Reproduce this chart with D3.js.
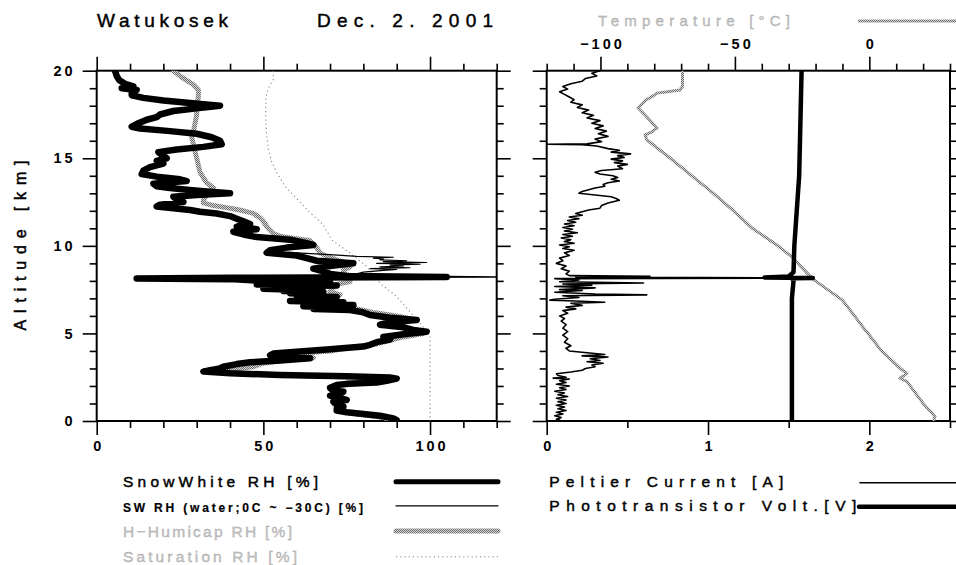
<!DOCTYPE html>
<html><head><meta charset="utf-8">
<script src="https://cdn.jsdelivr.net/npm/d3@7"></script>
<style>body{margin:0;background:#fff}svg{display:block}</style>
</head><body><svg id="c" width="956" height="565"></svg>
<script>
// ---------------- DATA ----------------
const title = "Watukosek";
const dateLabel = "Dec. 2. 2001";
const rhTicksMajor = [0, 50, 100];
const altTicksMajor = [0, 5, 10, 15, 20];
const pelTicksMajor = [0, 1, 2];
const tempTicksMajor = [-100, -50, 0];

// SnowWhite RH [%]
const swAlt = [20.0,19.7,19.45,19.25,19.1,19.0,18.9,18.75,18.6,18.45,18.3,18.15,18.0,17.85,17.7,17.5,17.35,17.2,17.0,16.8,16.7,16.55,16.4,16.2,16.0,15.8,15.65,15.5,15.35,15.2,15.0,14.85,14.7,14.5,14.3,14.1,13.95,13.8,13.7,13.55,13.4,13.3,13.2,13.1,13.0,12.9,12.8,12.65,12.5,12.35,12.25,12.15,12.05,11.95,11.85,11.7,11.55,11.4,11.25,11.1,10.95,10.8,10.65,10.5,10.35,10.2,10.05,9.9,9.75,9.6,9.45,9.3,9.15,9.0,8.85,8.7,8.55,8.4,8.28,8.22,8.18,8.14,8.1,8.02,7.97,7.92,7.85,7.8,7.74,7.68,7.62,7.55,7.48,7.42,7.36,7.3,7.22,7.15,7.08,7.0,6.92,6.85,6.78,6.7,6.62,6.55,6.48,6.4,6.34,6.2,6.05,5.9,5.77,5.65,5.5,5.35,5.2,5.1,4.95,4.8,4.65,4.5,4.35,4.25,4.1,3.96,3.85,3.75,3.65,3.58,3.45,3.35,3.25,3.1,3.0,2.9,2.82,2.72,2.63,2.55,2.48,2.42,2.3,2.2,2.12,2.05,1.9,1.75,1.67,1.55,1.45,1.35,1.2,1.1,0.95,0.82,0.7,0.6,0.5,0.4,0.3,0.15,0.05];
const swRH  = [5.5,6.0,6.8,8.5,11,7.5,12,10.5,10.5,14,20,28,37,30,23,19,18,15,12.5,10.5,13,22,30,34.5,37,37.5,32,24,18.5,19.5,21,18,20,16,14,13.5,18,25,27,17,18,22,27,33,40,30,23,24,26,19,18,23,28,31,36,40,42,44,46,42,48,41,44,48,58,62,65,57,52,51,60,63,66,77,70,65,68,70,75,105,40,12,40,48,70,50,65,48,72,55,66,50,62,56,68,58,66,60,72,62,70,58,74,62,77,62,72,65,76,80,82,88,96,88,85,92,95,99,92,86,88,84,82,80,70,60,53,52,60,64,55,46,42,38,37,34,32,40,55,75,88,90,87,84,75,72,70,71,74,73,70,72,75,71,72,74,72,72,75,80,85,89,90];

// SW RH (water; 0C ~ -30C) [%]
const swwAlt = [9.6,9.5,9.4,9.35,9.3,9.25,9.2,9.15,9.1,9.05,9.0,8.95,8.9,8.85,8.8,8.75,8.7,8.65,8.6,8.5,8.4,8.3,8.22,8.18,8.14,8.1,8.0,7.9,7.7,7.5,7.3,7.1,6.9,6.7,6.5,6.3,6.1,5.9,5.77,5.6,5.4,5.2,5.05];
const swwRH  = [60,70,78,89,83,86,85,93,86,99,84,97,88,92,85,94,82,90,86,80,78,82,125,60,15,45,50,54,62,58,60,64,63,66,68,76,82,88,96,87,90,95,95];

// H-Humicap RH [%]
const hhAlt = [20.0,19.7,19.5,19.2,18.9,18.5,18.0,17.5,17.0,16.5,16.2,15.8,15.4,15.0,14.6,14.2,13.9,13.6,13.3,13.1,12.9,12.6,12.45,12.3,12.15,12.0,11.85,11.6,11.4,11.1,10.9,10.7,10.55,10.4,10.3,10.1,9.9,9.6,9.4,9.2,9.0,8.8,8.6,8.44,8.3,8.1,7.96,7.8,7.6,7.4,7.2,7.0,6.8,6.6,6.4,6.2,6.0,5.8,5.6,5.4,5.2,5.0,4.8,4.6,4.4,4.2,4.0,3.85,3.7,3.6,3.45,3.3,3.1,2.95,2.82,2.7,2.6,2.5,2.4,2.2,2.0,1.8,1.6,1.4,1.2,1.0,0.8,0.6,0.4,0.2,0.05];
const hhRH  = [23,25,26.5,29,30.5,30.5,30,30,29.5,29,28.5,29,29.5,30,30.5,31,32,33,35,34,33,32,32,35,40,44,47,49,50,51,52,53,55,60,64,65,66,67,69,72,75,76,74,74,76,76,76,72,71,70,73,71,73,75,78,83,90,95,92,90,95,98,92,88,84,76,70,60,64,65,56,50,47,40,38,45,60,80,87,83,71,70,72,71,73,71,72,72,78,86,88];

// Saturation RH [%]
const satAlt = [20.0,19.5,19.0,18.5,18.0,17.4,16.5,15.5,14.8,14.2,13.4,12.7,11.9,11.2,10.34,9.58,8.82,7.86,7.1,6.34,5.58,4.9,4.0,3.0,2.0,1.0,0.0];
const satRH  = [53,53,51.5,50.8,50.7,50.7,50.9,51.5,52.5,54,56.5,60,64,68,70.5,76,81,85,90,93.5,97,100,100,100,100,100,100];

// Temperature [°C]
const tAlt = [19.96,19.1,18.9,18.8,18.72,18.5,18.35,17.87,17.4,16.9,16.72,16.5,16.34,16.06,15.0,14.0,13.0,12.0,11.0,10.0,9.39,8.1,6.9,6.0,5.2,5.0,4.0,3.0,2.72,2.44,2.25,1.0,0.25,0.06];
const tVal = [-69.5,-69.5,-70.5,-75,-79,-81,-83,-86,-83,-80,-79,-81,-83.4,-82.8,-74,-66,-58,-50.5,-43.5,-34,-29,-21,-10,-5.5,-1.6,-0.5,4.5,11.5,14,11.4,14,20,24.4,24];

// Peltier Current [A]
const pcAlt = [20.0,19.85,19.7,19.55,19.4,19.25,19.1,18.95,18.8,18.65,18.5,18.35,18.2,18.05,17.9,17.75,17.6,17.45,17.3,17.15,17.0,16.85,16.7,16.55,16.4,16.25,16.1,15.95,15.82,15.8,15.78,15.7,15.55,15.45,15.35,15.25,15.15,15.05,14.95,14.85,14.75,14.65,14.55,14.4,14.3,14.2,14.1,14.0,13.9,13.8,13.7,13.6,13.5,13.4,13.3,13.2,13.1,13.0,12.9,12.8,12.7,12.6,12.45,12.3,12.15,12.05,11.95,11.85,11.75,11.65,11.55,11.45,11.35,11.25,11.15,11.05,10.95,10.85,10.75,10.65,10.55,10.45,10.35,10.25,10.15,10.05,9.95,9.85,9.75,9.6,9.45,9.3,9.15,9.0,8.85,8.7,8.55,8.4,8.3,8.26,8.22,8.16,8.13,8.05,7.95,7.88,7.82,7.75,7.68,7.6,7.5,7.45,7.35,7.25,7.2,7.15,7.05,6.95,6.9,6.85,6.78,6.72,6.6,6.5,6.4,6.3,6.15,6.0,5.85,5.7,5.5,5.3,5.1,4.9,4.7,4.5,4.3,4.15,4.0,3.9,3.8,3.72,3.65,3.55,3.45,3.38,3.3,3.2,3.1,3.0,2.9,2.8,2.7,2.6,2.5,2.45,2.4,2.3,2.2,2.1,2.0,1.9,1.8,1.7,1.6,1.5,1.4,1.3,1.2,1.1,1.0,0.9,0.8,0.7,0.6,0.5,0.4,0.3,0.2,0.1,0.05];
const pcVal = [0.33,0.28,0.31,0.24,0.22,0.15,0.10,0.13,0.08,0.11,0.14,0.17,0.15,0.22,0.19,0.26,0.22,0.29,0.25,0.33,0.28,0.35,0.30,0.37,0.32,0.38,0.30,0.34,0.25,0.0,0.22,0.31,0.38,0.45,0.40,0.52,0.44,0.48,0.40,0.47,0.42,0.50,0.44,0.47,0.34,0.30,0.33,0.41,0.44,0.40,0.45,0.38,0.35,0.36,0.30,0.26,0.22,0.20,0.30,0.40,0.43,0.45,0.38,0.34,0.33,0.26,0.22,0.18,0.22,0.14,0.20,0.13,0.18,0.11,0.17,0.10,0.16,0.11,0.19,0.10,0.16,0.09,0.15,0.11,0.17,0.08,0.14,0.10,0.17,0.11,0.14,0.08,0.10,0.06,0.12,0.09,0.14,0.12,0.14,0.64,0.18,1.55,0.05,0.20,0.08,0.60,0.10,0.28,0.05,0.30,0.08,0.22,0.05,0.30,0.62,0.10,0.20,0.05,0.02,0.18,0.36,0.15,0.22,0.12,0.18,0.10,0.13,0.08,0.11,0.09,0.12,0.10,0.13,0.10,0.13,0.11,0.15,0.12,0.14,0.25,0.36,0.22,0.38,0.27,0.33,0.25,0.35,0.28,0.30,0.24,0.22,0.15,0.06,0.07,0.12,0.04,0.14,0.08,0.12,0.06,0.14,0.08,0.12,0.05,0.11,0.07,0.13,0.06,0.12,0.07,0.12,0.06,0.11,0.07,0.12,0.06,0.10,0.05,0.09,0.06,0.08];

// Phototransistor Volt. [V]
const ptAlt = [20.0,18.0,16.0,14.0,12.0,10.0,8.5,8.25,8.2,8.17,8.13,8.0,7.0,6.0,4.0,2.0,0.05];
const ptVal = [1.58,1.575,1.57,1.565,1.55,1.535,1.53,1.5,1.35,1.65,1.52,1.53,1.52,1.52,1.52,1.52,1.52];

// ---------------- DRAW ----------------
const FONT = "'Liberation Sans', Arial, Helvetica, sans-serif";
const svg = d3.select("#c");
const defs = svg.append("defs");
const pat = defs.append("pattern").attr("id","half").attr("width",2).attr("height",2).attr("patternUnits","userSpaceOnUse");
pat.append("rect").attr("width",2).attr("height",2).attr("fill","#d8d8d8");
pat.append("rect").attr("x",0).attr("y",0).attr("width",1).attr("height",1).attr("fill","#6a6a6a");
pat.append("rect").attr("x",1).attr("y",1).attr("width",1).attr("height",1).attr("fill","#6a6a6a");

const Y0 = 70.7, Y1 = 421;
const L = {x0: 96.7, x1: 496.7};
const R = {x0: 546.7, x1: 950};
const yAlt = d3.scaleLinear([0, 20], [Y1, Y0]);
const xRH = d3.scaleLinear([0, 120], [L.x0, L.x1]);
const xPel = d3.scaleLinear([0, 2.5], [R.x0, R.x1]);
const xT = d3.scaleLinear([-120, 30], [R.x0, R.x1]);

["cl","cr"].forEach((id,i) => {
  const P = i ? R : L;
  defs.append("clipPath").attr("id", id).append("rect")
    .attr("x", P.x0).attr("y", Y0).attr("width", P.x1 - P.x0).attr("height", Y1 - Y0);
});

function addAxis(gen, scale, vals, size, tx, ty, labels, pad) {
  const ax = gen(scale).tickValues(vals).tickSize(size).tickSizeOuter(0).tickPadding(pad || 3)
    .tickFormat(labels ? (d => d < 0 ? "\u2212" + Math.abs(d) : String(d)) : "");
  const g = svg.append("g").attr("transform", `translate(${tx},${ty})`).call(ax);
  g.select(".domain").remove();
  g.selectAll(".tick line").attr("stroke", "#000").attr("stroke-width", 1.6);
  g.selectAll(".tick text").attr("font-family", FONT).attr("font-size", 14.5)
    .attr("font-weight", "bold").attr("fill", "#000").attr("letter-spacing", "3px");
  return g;
}
const range = (a, b, s) => d3.range(a, b + s / 2, s);
const minorOf = (all, maj) => all.filter(v => !maj.some(m => Math.abs(m - v) < 1e-9));
const altAll = range(0, 20, 1), altMinor = minorOf(altAll, altTicksMajor);
const rhAll = range(0, 120, 10), rhMinor = minorOf(rhAll, rhTicksMajor);
const pelAll = range(0, 2.5, 0.5), pelMinor = minorOf(pelAll, pelTicksMajor);
const tAll = range(-120, 30, 10), tMinor = minorOf(tAll, tempTicksMajor);

// left panel axes
let g = addAxis(d3.axisLeft, yAlt, altTicksMajor, 14, L.x0, 0, true, 7);
addAxis(d3.axisLeft, yAlt, altMinor, 7, L.x0, 0, false);
addAxis(d3.axisRight, yAlt, altTicksMajor, 14, L.x1, 0, false);
addAxis(d3.axisRight, yAlt, altMinor, 7, L.x1, 0, false);
g = addAxis(d3.axisBottom, xRH, rhTicksMajor, 14, 0, Y1, true, 6);
g.selectAll(".tick text").attr("dx", "1.5");
addAxis(d3.axisBottom, xRH, rhMinor, 7, 0, Y1, false);
addAxis(d3.axisTop, xRH, rhTicksMajor, 14, 0, Y0, false);
addAxis(d3.axisTop, xRH, rhMinor, 7, 0, Y0, false);
// right panel axes
addAxis(d3.axisLeft, yAlt, altTicksMajor, 14, R.x0, 0, false);
addAxis(d3.axisLeft, yAlt, altMinor, 7, R.x0, 0, false);
addAxis(d3.axisRight, yAlt, altTicksMajor, 14, R.x1, 0, false);
addAxis(d3.axisRight, yAlt, altMinor, 7, R.x1, 0, false);
g = addAxis(d3.axisBottom, xPel, pelTicksMajor, 14, 0, Y1, true, 6);
g.selectAll(".tick text").attr("dx", "1.5");
addAxis(d3.axisBottom, xPel, pelMinor, 7, 0, Y1, false);
g = addAxis(d3.axisTop, xT, tempTicksMajor, 14, 0, Y0, true, 8);
g.selectAll(".tick text").attr("dx", "1.5");
addAxis(d3.axisTop, xT, tMinor, 7, 0, Y0, false);

// frames
[L, R].forEach(P => svg.append("rect").attr("x", P.x0).attr("y", Y0)
  .attr("width", P.x1 - P.x0).attr("height", Y1 - Y0)
  .attr("fill", "none").attr("stroke", "#000").attr("stroke-width", 2));

function series(clip, xs, alts, vals, style) {
  const data = d3.zip(alts, vals);
  const line = d3.line().x(d => xs(d[1])).y(d => yAlt(d[0])).curve(d3.curveLinear);
  const p = svg.append("path").attr("clip-path", `url(#${clip})`).attr("d", line(data))
    .attr("fill", "none").attr("stroke-linejoin", "round").attr("stroke-linecap", "round");
  Object.entries(style).forEach(([k, v]) => p.attr(k, v));
}
const sSat = {stroke: "#888", "stroke-width": 1.1, "stroke-dasharray": "1.2,3", "stroke-linecap": "butt"};
const sHH = {stroke: "url(#half)", "stroke-width": 5};
const sSW = {stroke: "#000", "stroke-width": 6.5};
const sSWW = {stroke: "#000", "stroke-width": 1.2};
const sT = {stroke: "url(#half)", "stroke-width": 3};
const sPC = {stroke: "#000", "stroke-width": 1.6};
const sPT = {stroke: "#000", "stroke-width": 4.5};

series("cl", xRH, satAlt, satRH, sSat);
series("cl", xRH, hhAlt, hhRH, sHH);
series("cl", xRH, swAlt, swRH, sSW);
series("cl", xRH, swwAlt, swwRH, sSWW);

series("cr", xT, tAlt, tVal, sT);
series("cr", xPel, pcAlt, pcVal, sPC);
series("cr", xPel, ptAlt, ptVal, sPT);

// texts
const GRAY = {fill: "#c4c4c4", stroke: "#a6a6a6", sw: 0.35};
function txt(s, x, y, size, len, opts = {}) {
  const t = svg.append("text").attr("x", x).attr("y", y).text(s)
    .attr("font-family", FONT).attr("font-size", size).attr("fill", opts.fill || "#000")
    .attr("font-weight", opts.weight || "normal")
    .attr("stroke", opts.stroke || "#000").attr("stroke-width", opts.sw != null ? opts.sw : 0.45);
  if (len) t.attr("textLength", len).attr("lengthAdjust", "spacing");
  return t;
}
txt(title, 97, 27, 19, 131);
txt(dateLabel, 317, 27, 19, 176);
txt("Temperature [\u00B0C]", 598, 25.5, 15, 192, GRAY);
svg.append("line").attr("x1", 858).attr("x2", 962).attr("y1", 21).attr("y2", 21)
  .attr("stroke", "url(#half)").attr("stroke-width", 3);

svg.append("text").attr("transform", "translate(26,245.5) rotate(-90)")
  .attr("text-anchor", "middle").attr("font-family", FONT).attr("font-size", 16)
  .attr("stroke", "#000").attr("stroke-width", 0.5)
  .attr("textLength", 170).attr("lengthAdjust", "spacing").text("Altitude [km]");

// legends
const legL = [
  {t: "SnowWhite RH [%]", y: 487, size: 15.5, len: 195, ly: 481.7, st: sSW, w: "normal"},
  {t: "SW RH (water;0C ~ \u221230C) [%]", y: 511.5, size: 12, len: 240, ly: 505.8, st: sSWW, w: "bold"},
  {t: "H\u2212Humicap RH [%]", y: 536.5, size: 15.5, len: 169, ly: 531, st: sHH, w: "normal", gray: true},
  {t: "Saturation RH [%]", y: 561.5, size: 15.5, len: 174, ly: 556.7, st: sSat, w: "normal", gray: true},
];
legL.forEach(d => {
  txt(d.t, 123, d.y, d.size, d.len, d.gray ? GRAY : {weight: d.w, sw: d.w === "bold" ? 0.2 : 0.45});
  const l = svg.append("line").attr("x1", 396).attr("x2", 498).attr("y1", d.ly).attr("y2", d.ly)
    .attr("stroke-linecap", "round");
  Object.entries(d.st).forEach(([k, v]) => l.attr(k, v));
  if (d.st === sSW) l.attr("stroke-width", 5);
});
const legR = [
  {t: "Peltier Current [A]", y: 487.3, len: 234, ly: 482.7, st: sPC, x1: 860},
  {t: "Phototransistor Volt.[V]", y: 510.5, len: 307, ly: 506.7, st: sPT, x1: 859},
];
legR.forEach(d => {
  txt(d.t, 549.3, d.y, 15.5, d.len);
  const l = svg.append("line").attr("x1", d.x1).attr("x2", 962).attr("y1", d.ly).attr("y2", d.ly)
    .attr("stroke-linecap", "round");
  Object.entries(d.st).forEach(([k, v]) => l.attr(k, v));
});
</script></body></html>
